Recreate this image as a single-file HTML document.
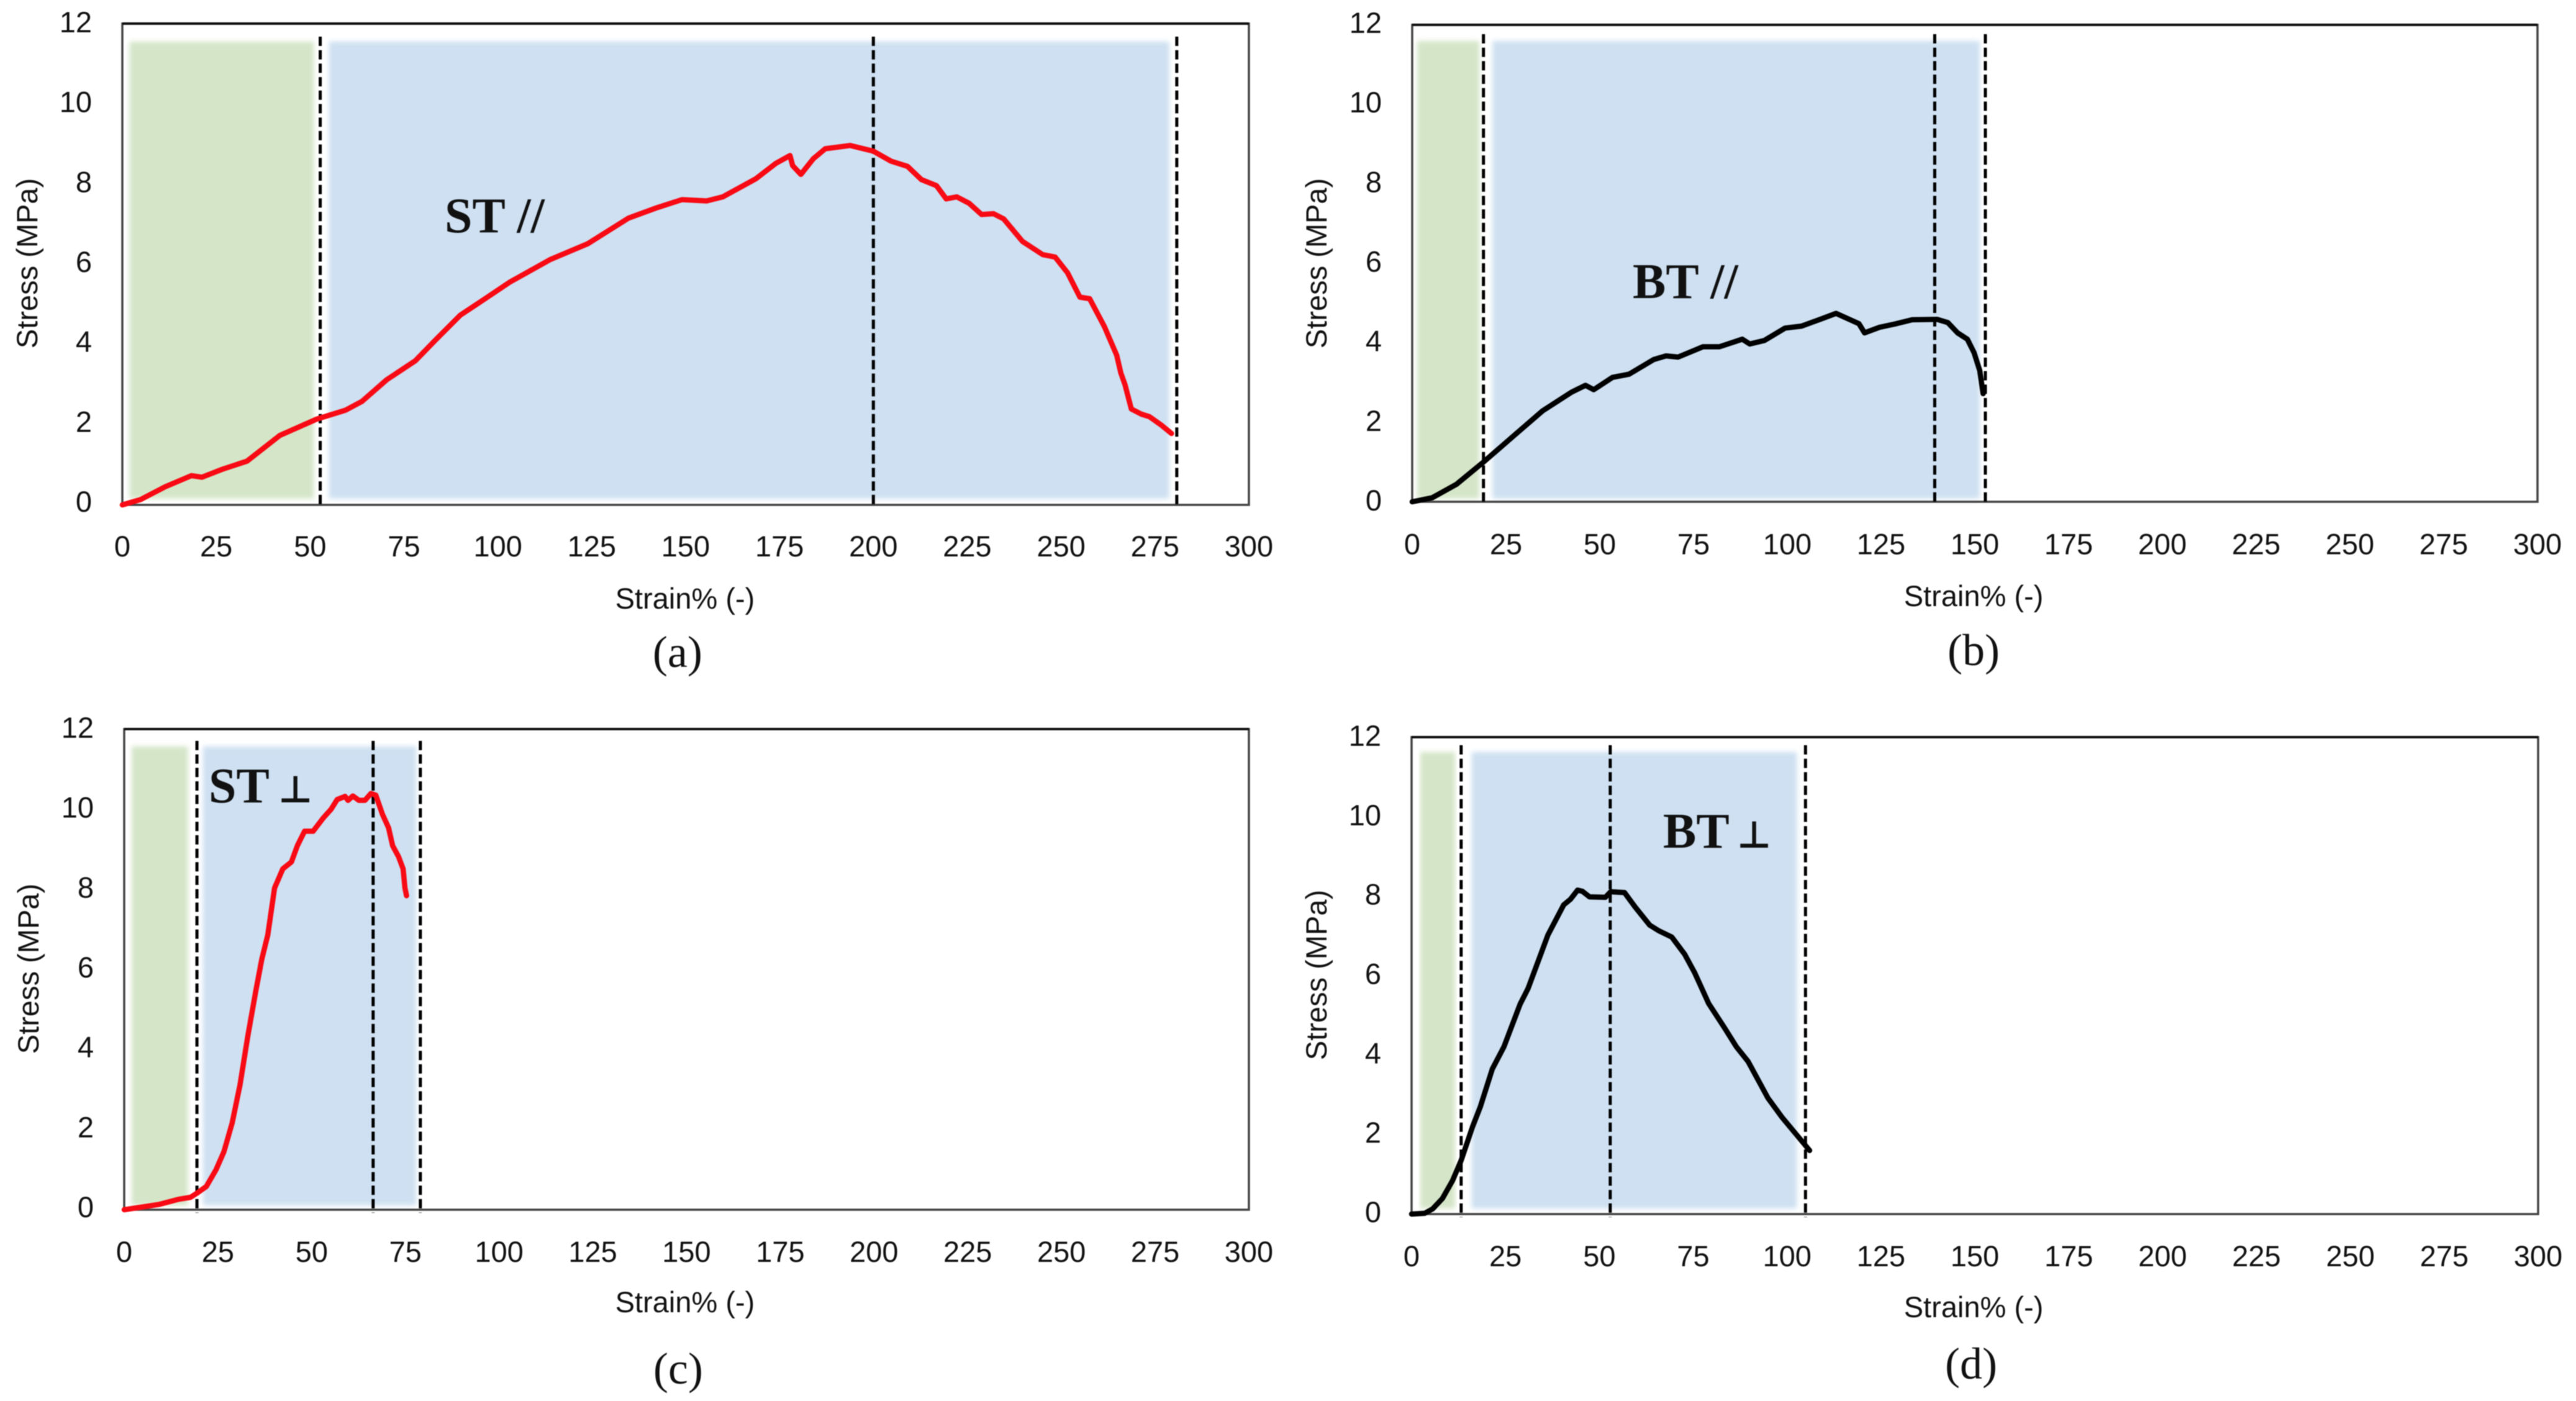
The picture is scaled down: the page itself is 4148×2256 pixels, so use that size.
<!DOCTYPE html>
<html lang="en">
<head>
<meta charset="utf-8">
<title>Stress-strain curves</title>
<style>
html,body{margin:0;padding:0;background:#fff;width:4148px;height:2256px;overflow:hidden}
svg{display:block;filter:blur(0.8px)}
text{font-family:"Liberation Sans",sans-serif;fill:#111}
.tick{font-size:47px}
.axis-title{font-size:47px;text-anchor:middle}
.caption{font-family:"Liberation Serif",serif;font-size:72px;text-anchor:middle}
.tag{font-family:"Liberation Serif","DejaVu Sans",serif;font-size:80px;font-weight:bold}
.perp{font-family:"DejaVu Sans",serif;font-size:60px}
</style>
</head>
<body>
<svg id="figure" xmlns="http://www.w3.org/2000/svg" width="4148" height="2256" viewBox="0 0 4148 2256">
<defs>
<filter id="soft" x="-5%" y="-5%" width="110%" height="110%"><feGaussianBlur stdDeviation="4"/></filter>
</defs>
<g id="marks"></g>
<g>
<text class="axis-title" x="1103" y="980">Strain% (-)</text>
<text class="axis-title" x="3178" y="976">Strain% (-)</text>
<text class="axis-title" x="1103" y="2113">Strain% (-)</text>
<text class="axis-title" x="3178" y="2121">Strain% (-)</text>
<text class="axis-title" transform="translate(60,424) rotate(-90)">Stress (MPa)</text>
<text class="axis-title" transform="translate(2136,424) rotate(-90)">Stress (MPa)</text>
<text class="axis-title" transform="translate(62,1560) rotate(-90)">Stress (MPa)</text>
<text class="axis-title" transform="translate(2136,1570) rotate(-90)">Stress (MPa)</text>
</g>
<g>
<text class="caption" x="1091" y="1074">(a)</text>
<text class="caption" x="3178" y="1071">(b)</text>
<text class="caption" x="1092" y="2228">(c)</text>
<text class="caption" x="3174" y="2220">(d)</text>
</g>
<g>
<text class="tag" x="716" y="374">ST //</text>
<text class="tag" x="2629" y="480">BT //</text>
<text class="tag" x="336" y="1292">ST <tspan class="perp" dx="-4">⊥</tspan></text>
<text class="tag" x="2678" y="1365">BT <tspan class="perp" dx="-6">⊥</tspan></text>
</g>
</svg>
<script>
const xTickLabels = [0,25,50,75,100,125,150,175,200,225,250,275,300];
const yTickLabels = [0,2,4,6,8,10,12];

const strainA = [0,4.8,11.4,18.4,21.2,26.7,33.2,41.9,51.8,59.4,63.8,70.4,78,83.5,90,96.6,103.1,114,123.9,134.8,142.4,149,155.6,159.9,168.7,174.1,177.8,178.5,180.7,184,187.2,193.8,200,204.7,209.1,212.8,216.8,219.4,222.2,225.5,228.8,232,234.7,239.7,245.1,248.4,251.7,255,257.6,261.5,264.8,265.9,267,268.7,271.4,273.5,276.8,279.4];
const stressA = [0,0.13,0.45,0.73,0.69,0.89,1.09,1.73,2.14,2.36,2.58,3.12,3.59,4.12,4.73,5.14,5.55,6.12,6.51,7.15,7.41,7.61,7.58,7.68,8.13,8.52,8.71,8.46,8.24,8.63,8.88,8.96,8.82,8.57,8.44,8.11,7.96,7.63,7.68,7.52,7.24,7.26,7.13,6.57,6.24,6.18,5.79,5.18,5.14,4.45,3.73,3.29,3.0,2.39,2.26,2.2,1.98,1.78];

const strainB = [0,5.3,11.8,19,27.2,34.8,42.5,46.2,48.4,53.4,57.8,64.4,67.7,70.9,77.5,81.9,88,90,93.9,99.4,103.8,109.3,113,115.8,119.1,120.6,124.6,129,133.3,139.9,142.8,145.4,148,149.8,151.3,152.2];
const stressB = [0,0.1,0.44,1,1.67,2.29,2.76,2.93,2.82,3.13,3.21,3.58,3.67,3.64,3.9,3.9,4.09,3.97,4.06,4.37,4.42,4.61,4.74,4.62,4.48,4.25,4.39,4.48,4.58,4.59,4.51,4.25,4.09,3.75,3.3,2.72];

const strainC = [0,9.2,14.5,17.7,19.5,21.9,24.5,26.6,28.8,30.9,33,35.1,36.7,38.3,40.1,42.3,44.6,46.2,48.1,50.4,53.1,55.2,56.8,58.9,59.7,61,62.6,64.2,65.8,67.1,68.9,70.5,71.6,73.2,74.4,74.9,75.3];
const stressC = [0,0.13,0.26,0.31,0.42,0.58,1,1.45,2.17,3.12,4.35,5.46,6.25,6.86,8.03,8.51,8.68,9.09,9.45,9.45,9.78,10,10.24,10.32,10.22,10.33,10.22,10.22,10.39,10.35,9.87,9.54,9.09,8.81,8.51,8.03,7.84];

const strainD = [0,3.5,5.6,8.2,10.9,13.2,16.2,18.3,21.5,24.6,28.9,31,36.3,40.5,42.3,44.2,45.5,47.4,51.6,53,56.7,59.5,63.4,65.8,69.3,72.7,75.4,79.1,83.3,86.5,89.6,94.9,98.6,102.3,106];
const stressD = [0,0.02,0.13,0.39,0.84,1.35,2.19,2.7,3.65,4.21,5.28,5.67,7.02,7.78,7.92,8.15,8.12,7.98,7.97,8.11,8.09,7.73,7.27,7.13,6.97,6.54,6.07,5.3,4.69,4.21,3.84,2.92,2.44,2.02,1.6];

const boundariesA = [52.7,200,280.8];
const boundariesB = [19,139.3,152.8];
const boundariesC = [19.4,66.4,79];
const boundariesD = [13.2,52.9,104.9];

const elasticRangeA = [1.9,51];
const elasticRangeB = [1.3,17.9];
const elasticRangeC = [2,17];
const elasticRangeD = [2.3,11.6];

const plasticRangeA = [55,278.8];
const plasticRangeB = [21.4,151.3];
const plasticRangeC = [21,77.9];
const plasticRangeD = [16,102.6];

const xMax = 300;
const yMax = 12;

const panelA = {id:'a',strain:strainA,stress:stressA,bounds:boundariesA,elastic:elasticRangeA,plastic:plasticRangeA,color:'#f80a14',left:197,right:2011,top:38,bottom:813,tickY:896,labelZero:824,labelTop:52,shadeTop:67,shadeBottom:803,dashTop:59,dashBottom:817};
const panelB = {id:'b',strain:strainB,stress:stressB,bounds:boundariesB,elastic:elasticRangeB,plastic:plasticRangeB,color:'#000',left:2274,right:4086,top:40,bottom:808,tickY:892.5,labelZero:822,labelTop:53,shadeTop:66,shadeBottom:803,dashTop:55,dashBottom:813};
const panelC = {id:'c',strain:strainC,stress:stressC,bounds:boundariesC,elastic:elasticRangeC,plastic:plasticRangeC,color:'#f80a14',left:200,right:2011,top:1174,bottom:1948,tickY:2032,labelZero:1960,labelTop:1188,shadeTop:1202,shadeBottom:1941,dashTop:1193,dashBottom:1953};
const panelD = {id:'d',strain:strainD,stress:stressD,bounds:boundariesD,elastic:elasticRangeD,plastic:plasticRangeD,color:'#000',left:2273,right:4087,top:1187,bottom:1955,tickY:2039,labelZero:1968,labelTop:1201,shadeTop:1211,shadeBottom:1946,dashTop:1200,dashBottom:1960};

const panels = [panelA,panelB,panelC,panelD];
const NS = 'http://www.w3.org/2000/svg';
const root = document.getElementById('marks');

function make(tag, attrs, parent){
  const el = document.createElementNS(NS, tag);
  for (const k in attrs) el.setAttribute(k, attrs[k]);
  parent.appendChild(el);
  return el;
}

panels.forEach(function(p){
  const sx = function(v){ return p.left + (p.right - p.left) * v / xMax; };
  const sy = function(v){ return p.bottom - (p.bottom - p.top) * v / yMax; };
  const labelY = function(v){ return p.labelZero - (p.labelZero - p.labelTop) * v / yMax; };

  const g = make('g', {}, root);
  
  

  const green = make('rect', {x:sx(p.elastic[0]),y:p.shadeTop,width:sx(p.elastic[1])-sx(p.elastic[0]),height:p.shadeBottom-p.shadeTop,fill:'#d4e5c8',filter:'url(#soft)'}, g);
  
  

  const blue = make('rect', {x:sx(p.plastic[0]),y:p.shadeTop,width:sx(p.plastic[1])-sx(p.plastic[0]),height:p.shadeBottom-p.shadeTop,fill:'#cee0f1',filter:'url(#soft)'}, g);
  
  

  const frame = make('rect', {x:p.left,y:p.top,width:p.right-p.left,height:p.bottom-p.top,fill:'none',stroke:'#444','stroke-width':3.5}, g);
  
  

  const topEdge = make('line', {x1:p.left,x2:p.right,y1:p.top,y2:p.top,stroke:'#111','stroke-width':4}, g);
  
  

  p.bounds.forEach(function(b, i){
    const dash = make('line', {x1:sx(b),x2:sx(b),y1:p.dashTop,y2:p.dashBottom,stroke:'#000','stroke-width':5,'stroke-dasharray':'15 6.7'}, g);
    
    
  });

  const d = p.strain.map(function(v, i){ return (i ? 'L' : 'M') + sx(v).toFixed(1) + ' ' + sy(p.stress[i]).toFixed(1); }).join(' ');
  const curve = make('path', {d:d,fill:'none',stroke:p.color,'stroke-width':8.5,'stroke-linejoin':'round','stroke-linecap':'round'}, g);
  
  

  xTickLabels.forEach(function(v){
    const t = make('text', {class:'tick',x:sx(v),y:p.tickY,'text-anchor':'middle'}, g);
    
    
    t.textContent = v;
  });

  yTickLabels.forEach(function(v){
    const t = make('text', {class:'tick',x:p.left-49,y:labelY(v),'text-anchor':'end'}, g);
    
    
    t.textContent = v;
  });
});
</script>
</body>
</html>
